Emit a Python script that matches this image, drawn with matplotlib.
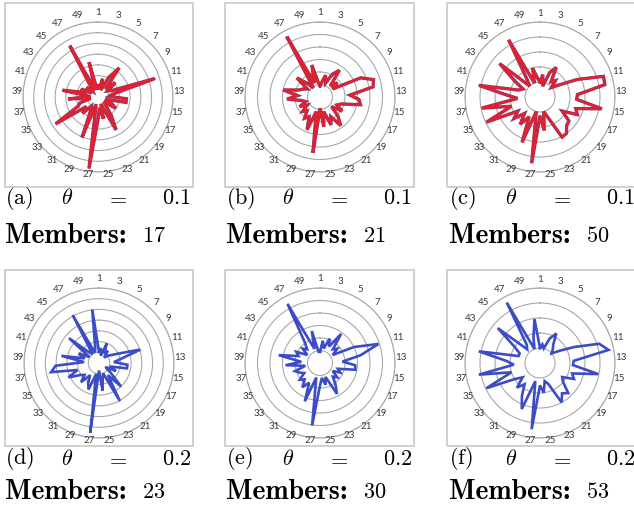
import os
import numpy as np
import matplotlib
import matplotlib.pyplot as plt
from matplotlib.patches import Rectangle
from matplotlib.font_manager import FontProperties

plt.rcParams['mathtext.fontset'] = 'cm'

W, H = 634, 516

# Computer Modern bold shipped with matplotlib, for the "Members:" lines
cm_bold = FontProperties(fname=os.path.join(matplotlib.get_data_path(),
                                            'fonts', 'ttf', 'cmb10.ttf'), size=20)

# 50 categories around each radar, labelled every other one
categories = list(range(1, 51))
tick_labels = [str(k) for k in range(1, 50, 2)]

# values as a fraction of the outer ring
vals_a = [0.15, 0.1, 0.25, 0.1, 0.3, 0.48, 0.15, 0.3, 0.15, 0.2,
          0.8, 0.2, 0.15, 0.38, 0.38, 0.1, 0.2, 0.28, 0.1, 0.15,
          0.3, 0.5, 0.1, 0.3, 0.15, 0.3, 0.96, 0.1, 0.58, 0.2,
          0.15, 0.3, 0.2, 0.67, 0.3, 0.25, 0.1, 0.4, 0.1, 0.48,
          0.2, 0.25, 0.1, 0.2, 0.1, 0.15, 0.78, 0.1, 0.48, 0.1]
vals_b = [0.15, 0.2, 0.3, 0.2, 0.35, 0.44, 0.2, 0.3, 0.2, 0.6,
          0.75, 0.72, 0.4, 0.52, 0.55, 0.3, 0.25, 0.35, 0.2, 0.35,
          0.47, 0.3, 0.4, 0.2, 0.4, 0.15, 0.75, 0.2, 0.47, 0.3,
          0.35, 0.25, 0.3, 0.2, 0.3, 0.2, 0.25, 0.44, 0.3, 0.5,
          0.3, 0.25, 0.2, 0.4, 0.25, 0.15, 0.92, 0.2, 0.44, 0.2]
vals_c = [0.2, 0.3, 0.15, 0.35, 0.45, 0.25, 0.3, 0.2, 0.3, 0.55,
          0.89, 0.88, 0.5, 0.49, 0.84, 0.5, 0.55, 0.35, 0.5, 0.52,
          0.6, 0.61, 0.3, 0.2, 0.45, 0.25, 0.89, 0.2, 0.65, 0.3,
          0.45, 0.3, 0.45, 0.35, 0.79, 0.4, 0.79, 0.3, 0.45, 0.83,
          0.3, 0.25, 0.4, 0.7, 0.2, 0.3, 0.87, 0.2, 0.4, 0.25]
vals_d = [0.15, 0.2, 0.1, 0.28, 0.15, 0.2, 0.1, 0.15, 0.2, 0.3,
          0.58, 0.3, 0.2, 0.38, 0.38, 0.15, 0.25, 0.1, 0.2, 0.43,
          0.2, 0.58, 0.15, 0.2, 0.37, 0.1, 0.94, 0.15, 0.38, 0.3,
          0.2, 0.35, 0.25, 0.3, 0.45, 0.3, 0.65, 0.58, 0.2, 0.51,
          0.2, 0.3, 0.15, 0.52, 0.2, 0.15, 0.73, 0.15, 0.2, 0.72]
vals_e = [0.15, 0.3, 0.2, 0.35, 0.25, 0.48, 0.25, 0.3, 0.2, 0.5,
          0.82, 0.55, 0.3, 0.47, 0.48, 0.25, 0.3, 0.2, 0.3, 0.25,
          0.35, 0.47, 0.2, 0.3, 0.2, 0.3, 0.84, 0.2, 0.55, 0.3,
          0.4, 0.3, 0.35, 0.25, 0.3, 0.35, 0.2, 0.46, 0.25, 0.56,
          0.3, 0.35, 0.2, 0.3, 0.25, 0.35, 0.9, 0.2, 0.44, 0.15]
vals_f = [0.2, 0.25, 0.2, 0.35, 0.45, 0.3, 0.25, 0.2, 0.3, 0.5,
          0.83, 0.93, 0.45, 0.44, 0.79, 0.45, 0.5, 0.35, 0.4, 0.55,
          0.5, 0.6, 0.3, 0.25, 0.4, 0.3, 0.89, 0.25, 0.66, 0.5,
          0.35, 0.45, 0.3, 0.4, 0.79, 0.4, 0.83, 0.35, 0.45, 0.83,
          0.3, 0.3, 0.4, 0.73, 0.25, 0.3, 0.92, 0.2, 0.35, 0.59]

panel_vals = [vals_a, vals_b, vals_c, vals_d, vals_e, vals_f]
panel_rings = [7, 6, 5, 7, 6, 5]
panel_letters = ['a', 'b', 'c', 'd', 'e', 'f']
thetas = ['0.1', '0.1', '0.1', '0.2', '0.2', '0.2']
members = [17, 21, 50, 23, 30, 53]

RED = '#e3202c'
BLUE = '#3b4cc6'

# layout in pixels
centers = [(98, 97), (320, 97), (540, 97), (99, 363), (320, 363), (540, 363)]
R = 75
box_x = [(5, 193), (225, 414), (447, 645)]
box_y = [(3, 187), (270, 446)]
col_left = [5, 226, 449]
cap_y = [(198, 236), (459, 492)]

fig = plt.figure(figsize=(W / 100, H / 100), dpi=100)

ang = np.deg2rad((np.array(categories) - 1) * 7.2)
ang_closed = np.append(ang, ang[0])

for i in range(6):
    row, col = divmod(i, 3)
    x0, x1 = box_x[col]
    y0, y1 = box_y[row]
    fig.add_artist(Rectangle((x0 / W, 1 - y1 / H), (x1 - x0) / W, (y1 - y0) / H,
                             transform=fig.transFigure, fill=False,
                             ec='#d0d0d0', lw=1.4))

    cx, cy = centers[i]
    ax = fig.add_axes([(cx - R) / W, 1 - (cy + R) / H, 2 * R / W, 2 * R / H],
                      projection='polar')
    ax.set_theta_zero_location('N')
    ax.set_theta_direction(-1)
    ax.set_ylim(0, 1)
    n = panel_rings[i]
    ax.set_yticks(np.linspace(0, 1, n + 1)[1:])
    ax.set_yticklabels([])
    ax.set_xticks([])
    ax.yaxis.grid(True, color='#a8a8a8', lw=0.8)
    ax.spines['polar'].set_color('#a8a8a8')
    ax.spines['polar'].set_linewidth(0.8)
    ax.set_facecolor('none')

    v = np.array(panel_vals[i])
    v_closed = np.append(v, v[0])
    if row == 0:
        ax.plot(ang_closed, v_closed, color='#7a3d78', lw=2.4, solid_joinstyle='miter')
        ax.plot(ang_closed, v_closed, color=RED, lw=1.7, solid_joinstyle='miter')
    else:
        ax.plot(ang_closed, v_closed, color=BLUE, lw=1.9, solid_joinstyle='miter')

    # category labels sit a little further out at the top than at the bottom
    for lab in tick_labels:
        a = np.deg2rad((int(lab) - 1) * 7.2)
        r_lab = 1.08 + 0.04 * np.cos(a)
        ax.text(a, r_lab, lab, ha='center', va='center', fontsize=7,
                color='#383838', family='Lato', clip_on=False)

    # caption
    xl = col_left[col]
    ya, yb = cap_y[row]
    fig.text(xl / W, 1 - ya / H, '$(\\mathrm{%s})$' % panel_letters[i],
             ha='left', va='center', fontsize=16)
    fig.text((xl + 62) / W, 1 - ya / H, '$\\theta$', ha='center', va='center', fontsize=16)
    fig.text((xl + 112) / W, 1 - ya / H, '$=$', ha='center', va='center', fontsize=16)
    fig.text((xl + 186) / W, 1 - ya / H, '$%s$' % thetas[i], ha='right', va='center', fontsize=16)
    fig.text(xl / W, 1 - yb / H, 'Members:', ha='left', va='center',
             fontproperties=cm_bold)
    fig.text((xl + 137) / W, 1 - yb / H, '$%d$' % members[i],
             ha='left', va='center', fontsize=16)

fig.savefig('out.png', dpi=100)
